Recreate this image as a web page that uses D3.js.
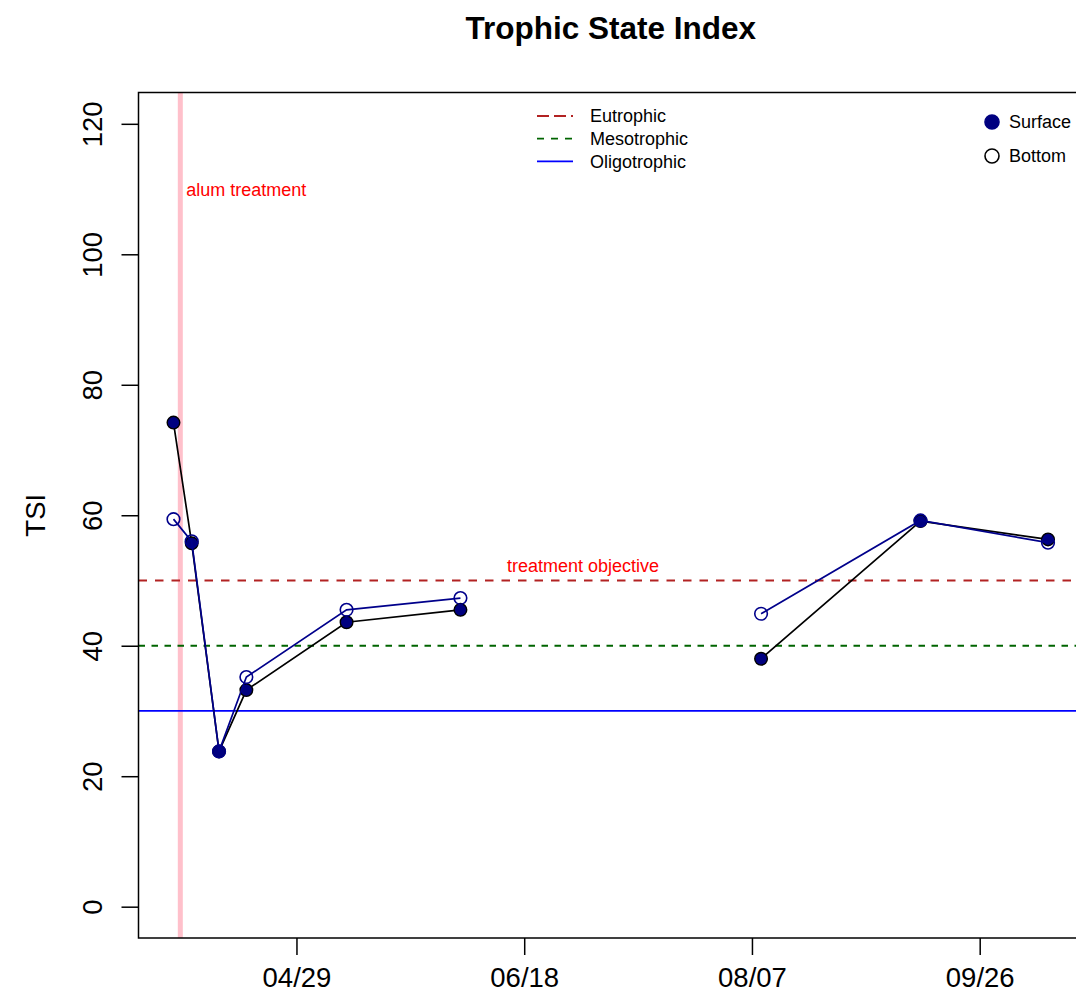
<!DOCTYPE html>
<html>
<head>
<meta charset="utf-8">
<script src="https://cdn.jsdelivr.net/npm/d3@7"></script>
<style>
  body { margin: 0; background: #fff; }
  svg { display: block; font-family: "Liberation Sans", Arial, sans-serif; }
</style>
</head>
<body>
<svg id="tsi" width="1076" height="1000"></svg>
<script>
// sample dates; null entry marks the July gap where no sample exists
const sampleDates = ['2013-04-02', '2013-04-06', '2013-04-12', '2013-04-18', '2013-05-10', '2013-06-04', '2013-07-10', '2013-08-09', '2013-09-13', '2013-10-11'];
const surfaceTSI = [74.2, 55.7, 23.8, 33.2, 43.6, 45.5, null, 38.0, 59.1, 56.3];
const bottomTSI = [59.4, 56.0, 23.8, 35.2, 45.5, 47.3, null, 44.9, 59.2, 55.8];

const xTickDates = ['2013-04-29', '2013-06-18', '2013-08-07', '2013-09-26'];
const yTicks = [0, 20, 40, 60, 80, 100, 120];
const yLimits = [0, 120];

const alumDate = '2013-04-03 12:00';
const trophicNames = ['Eutrophic', 'Mesotrophic', 'Oligotrophic'];
const trophicLevels = [50, 40, 30];
const trophicColors = ['#B22222', '#006400', '#0000FF'];
const trophicDash = ['8.5,8', '6.5,6.5', null];
const trophicLegendDash = ['12,5', '7,7', null];

const parseDate = d3.timeParse('%Y-%m-%d');
const parseTime = d3.timeParse('%Y-%m-%d %H:%M');
const fmt = d3.timeFormat('%m/%d');

const svg = d3.select('#tsi');
const margin = { top: 92.5, right: -7, bottom: 62, left: 138.5 };
const width = +svg.attr('width') - margin.left - margin.right;
const height = +svg.attr('height') - margin.top - margin.bottom;

const dates = sampleDates.map(parseDate);
const rows = dates.map((d, i) => ({ date: d, surface: surfaceTSI[i], bottom: bottomTSI[i] }));

// R-style 4% padding on both axes
const [d0, d1] = d3.extent(dates);
const pad = (d1 - d0) * 0.04;
const x = d3.scaleTime()
    .domain([new Date(+d0 - pad), new Date(+d1 + pad)])
    .range([0, width]);
const yPad = (yLimits[1] - yLimits[0]) * 0.04;
const y = d3.scaleLinear()
    .domain([yLimits[0] - yPad, yLimits[1] + yPad])
    .range([height, 0]);

svg.append('defs').append('clipPath').attr('id', 'clip')
  .append('rect').attr('width', width).attr('height', height);

const g = svg.append('g').attr('transform', `translate(${margin.left}, ${margin.top})`);
const plot = g.append('g').attr('clip-path', 'url(#clip)');

// alum treatment marker
const alumX = x(parseTime(alumDate));
plot.append('line')
    .attr('x1', alumX).attr('x2', alumX)
    .attr('y1', 0).attr('y2', height)
    .attr('stroke', '#FFC0CB')
    .attr('stroke-width', 5);

g.append('text')
    .attr('x', alumX + 6)
    .attr('y', 103)
    .attr('fill', '#FF0000')
    .style('font-size', '18px')
    .text('alum treatment');

// trophic thresholds
trophicLevels.forEach((lv, i) => {
  plot.append('line')
      .attr('x1', 0).attr('x2', width)
      .attr('y1', y(lv)).attr('y2', y(lv))
      .attr('stroke', trophicColors[i])
      .attr('stroke-width', 1.8)
      .attr('stroke-dasharray', trophicDash[i]);
});

g.append('text')
    .attr('x', 583 - margin.left)
    .attr('y', y(trophicLevels[0]) - 8.5)
    .attr('text-anchor', 'middle')
    .attr('fill', '#FF0000')
    .style('font-size', '18px')
    .text('treatment objective');

// series
const lineFor = (key) => d3.line()
    .defined((d) => d[key] != null)
    .x((d) => x(d.date))
    .y((d) => y(d[key]));

plot.append('path')
    .datum(rows)
    .attr('fill', 'none')
    .attr('stroke', '#000')
    .attr('stroke-width', 1.7)
    .attr('d', lineFor('surface'));

plot.selectAll('circle.surface')
    .data(rows.filter((d) => d.surface != null))
  .enter().append('circle')
    .attr('class', 'surface')
    .attr('cx', (d) => x(d.date))
    .attr('cy', (d) => y(d.surface))
    .attr('r', 6.3)
    .attr('fill', '#000080')
    .attr('stroke', '#000')
    .attr('stroke-width', 1.4);

plot.append('path')
    .datum(rows)
    .attr('fill', 'none')
    .attr('stroke', '#00008B')
    .attr('stroke-width', 1.7)
    .attr('d', lineFor('bottom'));

plot.selectAll('circle.bottom')
    .data(rows.filter((d) => d.bottom != null))
  .enter().append('circle')
    .attr('class', 'bottom')
    .attr('cx', (d) => x(d.date))
    .attr('cy', (d) => y(d.bottom))
    .attr('r', 6.3)
    .attr('fill', 'none')
    .attr('stroke', '#00008B')
    .attr('stroke-width', 1.6);

// axes
const xAxis = g.append('g')
    .attr('transform', `translate(0, ${height})`)
    .call(d3.axisBottom(x)
      .tickValues(xTickDates.map(parseDate))
      .tickFormat(fmt)
      .tickSize(17)
      .tickSizeOuter(0));
xAxis.select('.domain').remove();
xAxis.selectAll('line').attr('stroke', '#000').attr('stroke-width', 1.5);
xAxis.selectAll('text')
    .attr('y', 48.5)
    .attr('dy', null)
    .attr('fill', '#000')
    .style('font-size', '27.5px')
    .style('font-family', '"Liberation Sans", Arial, sans-serif');

const yAxis = g.append('g')
    .call(d3.axisLeft(y)
      .tickValues(yTicks)
      .tickSize(17)
      .tickSizeOuter(0));
yAxis.select('.domain').remove();
yAxis.selectAll('line').attr('stroke', '#000').attr('stroke-width', 1.5);
yAxis.selectAll('text')
    .attr('x', null)
    .attr('dy', null)
    .attr('transform', 'translate(-36.5, 0) rotate(-90)')
    .attr('text-anchor', 'middle')
    .attr('fill', '#000')
    .style('font-size', '27.5px')
    .style('font-family', '"Liberation Sans", Arial, sans-serif');

// plot box (right edge runs past the image)
g.append('rect')
    .attr('width', width)
    .attr('height', height)
    .attr('fill', 'none')
    .attr('stroke', '#000')
    .attr('stroke-width', 1.5);

// titles
svg.append('text')
    .attr('x', margin.left + width / 2)
    .attr('y', 39)
    .attr('text-anchor', 'middle')
    .style('font-size', '31.5px')
    .style('font-weight', 'bold')
    .text('Trophic State Index');

svg.append('text')
    .attr('transform', `translate(45, ${margin.top + height / 2}) rotate(-90)`)
    .attr('text-anchor', 'middle')
    .style('font-size', '27.5px')
    .text('TSI');

// legend: trophic lines
const leg1 = svg.append('g').attr('transform', 'translate(537, 116)');
trophicNames.forEach((name, i) => {
  const row = leg1.append('g').attr('transform', `translate(0, ${i * 22.7})`);
  row.append('line')
      .attr('x1', 0).attr('x2', 36)
      .attr('stroke', trophicColors[i])
      .attr('stroke-width', 1.8)
      .attr('stroke-dasharray', trophicLegendDash[i]);
  row.append('text')
      .attr('x', 53)
      .attr('dy', '0.35em')
      .style('font-size', '18px')
      .text(name);
});

// legend: series symbols
const leg2 = svg.append('g').attr('transform', 'translate(992, 122)');
[['Surface', '#000080', '#000080'], ['Bottom', 'none', '#000']].forEach(([name, fill, stroke], i) => {
  const row = leg2.append('g').attr('transform', `translate(0, ${i * 34})`);
  row.append('circle')
      .attr('r', 7)
      .attr('fill', fill)
      .attr('stroke', stroke)
      .attr('stroke-width', 1.6);
  row.append('text')
      .attr('x', 17)
      .attr('dy', '0.35em')
      .style('font-size', '18px')
      .text(name);
});
</script>
</body>
</html>
